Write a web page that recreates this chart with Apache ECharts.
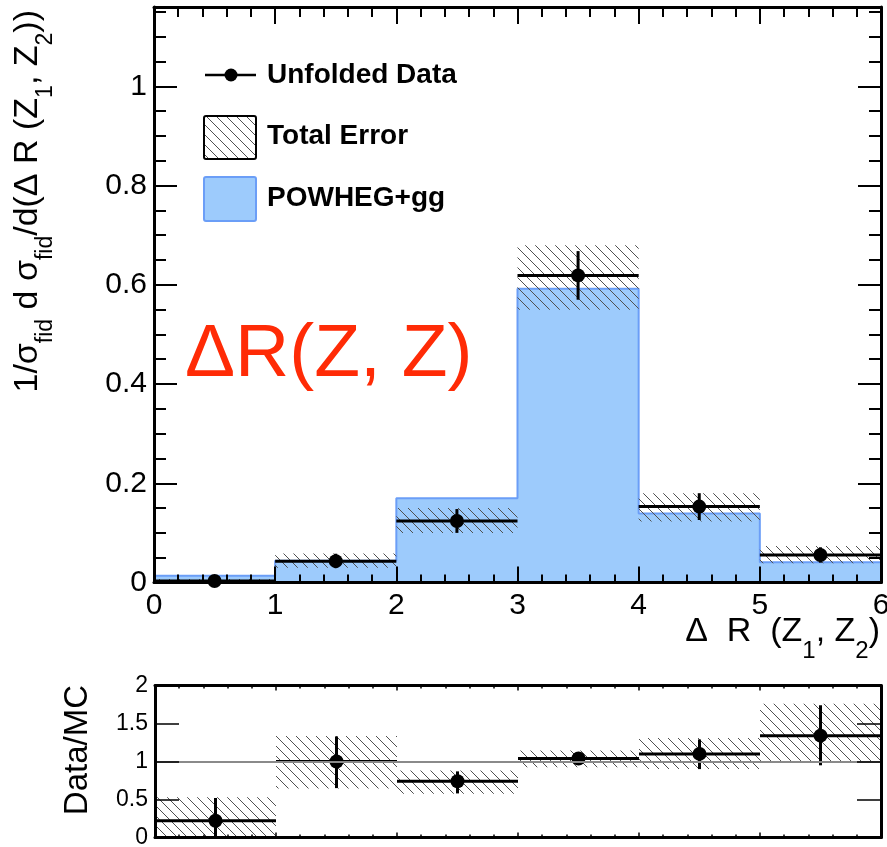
<!DOCTYPE html>
<html><head><meta charset="utf-8">
<script src="https://cdn.jsdelivr.net/npm/echarts@6/dist/echarts.min.js"></script>
<style>html,body{margin:0;padding:0;background:#fff}#c{width:887px;height:847px}</style>
</head><body><div id="c"></div>
<script>
// ---------- data ----------
const binEdges   = [0, 1, 2, 3, 4, 5, 6];
const powheg     = [0.0137, 0.044, 0.170, 0.592, 0.139, 0.041];
const dataVal    = [0.003, 0.043, 0.124, 0.619, 0.153, 0.0555];
const dataErrLo  = [0.000, 0.029, 0.100, 0.570, 0.126, 0.040];
const dataErrHi  = [0.007, 0.058, 0.148, 0.668, 0.180, 0.071];
const totErrLo   = [0.000, 0.0295, 0.100, 0.550, 0.123, 0.039];
const totErrHi   = [0.0073, 0.0585, 0.150, 0.680, 0.180, 0.0735];
const ratio      = [0.22, 1.00, 0.74, 1.04, 1.10, 1.34];
const ratioErrLo = [0.00, 0.65, 0.58, 0.96, 0.90, 0.95];
const ratioErrHi = [0.52, 1.33, 0.87, 1.12, 1.29, 1.74];
const ratioBandLo= [0.00, 0.645, 0.575, 0.925, 0.90, 0.99];
const ratioBandHi= [0.53, 1.335, 0.88, 1.145, 1.31, 1.76];
const legendNames = ['Unfolded Data', 'Total Error', 'POWHEG+gg'];
const ratioRef = 1;

// ---------- build ----------
const FONT = '"Liberation Sans", Arial, Helvetica, sans-serif';
const BLUE_FILL = '#9dcbfc', BLUE_EDGE = '#6b9ef7';
function makeHatch(s, color, w) {
  const c = document.createElement('canvas');
  c.width = s; c.height = s;
  const g = c.getContext('2d');
  g.strokeStyle = color; g.lineWidth = w;
  g.beginPath();
  g.moveTo(-1, -1); g.lineTo(s + 1, s + 1);
  g.moveTo(-1, s - 1); g.lineTo(1, s + 1);
  g.moveTo(s - 1, -1); g.lineTo(s + 1, 1);
  g.stroke();
  return c;
}
const hatchFill = {image: makeHatch(10, '#505050', 1), repeat: 'repeat'};

const nb = powheg.length;
const idx = powheg.map((_, i) => i);
const histLine = binEdges.map((e, i) => [e, powheg[Math.min(i, nb - 1)]]);
const bandMain = idx.map(i => [binEdges[i], binEdges[i + 1], totErrLo[i], totErrHi[i]]);
const ptsMain = idx.map(i => [binEdges[i], binEdges[i + 1], dataVal[i], dataErrLo[i], dataErrHi[i]]);
const bandRatio = idx.map(i => [binEdges[i], binEdges[i + 1], ratioBandLo[i], ratioBandHi[i]]);
const ptsRatio = idx.map(i => [binEdges[i], binEdges[i + 1], ratio[i], ratioErrLo[i], ratioErrHi[i]]);

function renderBand(params, api) {
  const p0 = api.coord([api.value(0), api.value(3)]);
  const p1 = api.coord([api.value(1), api.value(2)]);
  return {type: 'rect', shape: {x: p0[0], y: p0[1], width: p1[0] - p0[0], height: p1[1] - p0[1]},
          style: {fill: hatchFill}};
}
function renderPts(params, api) {
  const x0 = api.value(0), x1 = api.value(1), v = api.value(2), lo = api.value(3), hi = api.value(4);
  const xc = (x0 + x1) / 2;
  const a = api.coord([x0, v]), b = api.coord([x1, v]);
  const t = api.coord([xc, hi]), d = api.coord([xc, lo]), c = api.coord([xc, v]);
  return {type: 'group', children: [
    {type: 'line', shape: {x1: a[0], y1: a[1], x2: b[0], y2: b[1]}, style: {stroke: '#000', lineWidth: 3}},
    {type: 'line', shape: {x1: t[0], y1: t[1], x2: d[0], y2: d[1]}, style: {stroke: '#000', lineWidth: 3}},
    {type: 'circle', shape: {cx: c[0], cy: c[1], r: 7}, style: {fill: '#000'}}
  ]};
}

const aLine = {show: true, onZero: false, lineStyle: {color: '#000', width: 3}};
const noLine = {show: false, onZero: false};
function tick(len, w) { return {show: true, inside: true, length: len, lineStyle: {color: '#000', width: w}}; }
function minor(n, len, w) { return {show: true, splitNumber: n, length: len, lineStyle: {color: '#000', width: w}}; }
const noSplit = {show: false};

const xAxes = [
  {gridIndex: 0, type: 'value', position: 'bottom', min: 0, max: 6, interval: 1, z: 5,
   axisLine: aLine, axisTick: tick(16, 2), minorTick: minor(5, 8, 2), splitLine: noSplit, minorSplitLine: noSplit,
   axisLabel: {fontSize: 30, color: '#000', fontFamily: FONT, margin: 8}},
  {gridIndex: 0, type: 'value', position: 'top', min: 0, max: 6, interval: 1, z: 5,
   axisLine: aLine, axisTick: tick(17, 2), minorTick: minor(5, 10, 2), splitLine: noSplit, minorSplitLine: noSplit,
   axisLabel: {show: false}},
  {gridIndex: 1, type: 'value', position: 'bottom', min: 0, max: 6, interval: 1, z: 5,
   axisLine: aLine, axisTick: tick(5, 1.5), minorTick: minor(5, 3, 1.5), splitLine: noSplit, minorSplitLine: noSplit,
   axisLabel: {show: false}},
  {gridIndex: 1, type: 'value', position: 'top', min: 0, max: 6, interval: 1, z: 5,
   axisLine: aLine, axisTick: tick(5, 1.5), minorTick: minor(5, 3, 1.5), splitLine: noSplit, minorSplitLine: noSplit,
   axisLabel: {show: false}}
];
const yAxes = [
  {gridIndex: 0, type: 'value', position: 'left', min: 0, max: 1.16, interval: 0.2, z: 5,
   axisLine: aLine, axisTick: tick(23, 2), splitLine: noSplit,
   axisLabel: {fontSize: 30, color: '#000', fontFamily: FONT, margin: 7, showMaxLabel: false}},
  {gridIndex: 0, type: 'value', position: 'left', min: 0, max: 1.16, interval: 0.05, z: 5,
   axisLine: noLine, axisTick: tick(12, 2), splitLine: noSplit, axisLabel: {show: false}},
  {gridIndex: 0, type: 'value', position: 'right', min: 0, max: 1.16, interval: 0.2, z: 5,
   axisLine: aLine, axisTick: tick(23, 2), splitLine: noSplit, axisLabel: {show: false}},
  {gridIndex: 0, type: 'value', position: 'right', min: 0, max: 1.16, interval: 0.05, z: 5,
   axisLine: noLine, axisTick: tick(12, 2), splitLine: noSplit, axisLabel: {show: false}},
  {gridIndex: 1, type: 'value', position: 'left', min: 0, max: 2, interval: 0.5, z: 5,
   axisLine: aLine, axisTick: tick(24, 1.5), splitLine: noSplit,
   axisLabel: {fontSize: 23, color: '#000', fontFamily: FONT, margin: 7}},
  {gridIndex: 1, type: 'value', position: 'right', min: 0, max: 2, interval: 0.5, z: 5,
   axisLine: aLine, axisTick: tick(24, 1.5), splitLine: noSplit, axisLabel: {show: false}}
];

const yRich = {
  m: {fontSize: 34, lineHeight: 34, fontFamily: FONT, fill: '#000', verticalAlign: 'top'},
  s: {fontSize: 23, lineHeight: 23, padding: [24, 0, 0, 0], fontFamily: FONT, fill: '#000', verticalAlign: 'top'}
};
const xRich = {
  m: {fontSize: 34, lineHeight: 34, fontFamily: FONT, fill: '#000', verticalAlign: 'top'},
  s: {fontSize: 24, lineHeight: 24, padding: [24, 0, 0, 0], fontFamily: FONT, fill: '#000', verticalAlign: 'top'}
};

const graphic = [
  // y title
  {type: 'text', x: 10.5, y: 10, rotation: Math.PI / 2, z: 10,
   style: {text: '{m|1/σ}{s|fid}{m| d σ}{s|fid}{m|/d(Δ R (Z}{s|1}{m|, Z}{s|2}{m|))}',
           align: 'right', verticalAlign: 'top', rich: yRich}},
  // x title
  {type: 'text', x: 880, y: 615, z: 10,
   style: {text: '{m|Δ  R  (Z}{s|1}{m|, Z}{s|2}{m|)}', align: 'right', verticalAlign: 'top', rich: xRich}},
  // ratio title
  {type: 'text', x: 77.5, y: 685, rotation: Math.PI / 2, z: 10,
   style: {text: 'Data/MC', fontSize: 33, fontFamily: FONT, fill: '#000', align: 'right', verticalAlign: 'middle'}},
  // red label
  {type: 'text', x: 185, y: 355, z: 10,
   style: {text: 'ΔR(Z, Z)', fontSize: 75, fontFamily: FONT, fill: '#ff2b06', align: 'left', verticalAlign: 'middle'}},
  // legend
  {type: 'line', z: 10, shape: {x1: 205, y1: 75, x2: 256, y2: 75}, style: {stroke: '#000', lineWidth: 2.5}},
  {type: 'circle', z: 10, shape: {cx: 231, cy: 75, r: 6.5}, style: {fill: '#000'}},
  {type: 'text', z: 10, x: 267, y: 75, style: {text: legendNames[0], fontSize: 28, fontWeight: 'bold', fontFamily: FONT, fill: '#000', verticalAlign: 'middle'}},
  {type: 'rect', z: 10, shape: {x: 204, y: 116, width: 52, height: 43, r: 2}, style: {fill: hatchFill, stroke: '#000', lineWidth: 2}},
  {type: 'text', z: 10, x: 267, y: 136.5, style: {text: legendNames[1], fontSize: 28, fontWeight: 'bold', fontFamily: FONT, fill: '#000', verticalAlign: 'middle'}},
  {type: 'rect', z: 10, shape: {x: 204, y: 177, width: 52, height: 44, r: 2}, style: {fill: BLUE_FILL, stroke: BLUE_EDGE, lineWidth: 2}},
  {type: 'text', z: 10, x: 267, y: 198.3, style: {text: legendNames[2], fontSize: 28, fontWeight: 'bold', fontFamily: FONT, fill: '#000', verticalAlign: 'middle'}}
];

const option = {
  animation: false,
  backgroundColor: '#fff',
  grid: [
    {left: 154, right: 6, top: 7, height: 575.5, outerBoundsMode: 'none', containLabel: false},
    {left: 155, right: 6, top: 685.5, height: 152, outerBoundsMode: 'none', containLabel: false}
  ],
  xAxis: xAxes,
  yAxis: yAxes,
  graphic: graphic,
  series: [
    {name: legendNames[2], type: 'line', xAxisIndex: 0, yAxisIndex: 0, data: histLine, step: 'end',
     symbol: 'none', z: 1, lineStyle: {color: BLUE_EDGE, width: 2}, areaStyle: {color: BLUE_FILL, opacity: 1}},
    {name: legendNames[1], type: 'custom', xAxisIndex: 0, yAxisIndex: 0, data: bandMain, z: 2,
     renderItem: renderBand, encode: {x: [0, 1], y: [2, 3]}},
    {name: legendNames[0], type: 'custom', xAxisIndex: 0, yAxisIndex: 0, data: ptsMain, z: 3,
     renderItem: renderPts, encode: {x: [0, 1], y: [2, 3, 4]}},
    {name: 'ratioBand', type: 'custom', xAxisIndex: 2, yAxisIndex: 4, data: bandRatio, z: 2,
     renderItem: renderBand, encode: {x: [0, 1], y: [2, 3]},
     markLine: {silent: true, symbol: 'none', label: {show: false}, animation: false,
                lineStyle: {color: '#8a8a8a', width: 2, type: 'solid'}, data: [{yAxis: ratioRef}]}},
    {name: 'ratioPts', type: 'custom', xAxisIndex: 2, yAxisIndex: 4, data: ptsRatio, z: 3,
     renderItem: renderPts, encode: {x: [0, 1], y: [2, 3, 4]}}
  ]
};
const chart = echarts.init(document.getElementById('c'));
chart.setOption(option);
</script>
</body></html>
